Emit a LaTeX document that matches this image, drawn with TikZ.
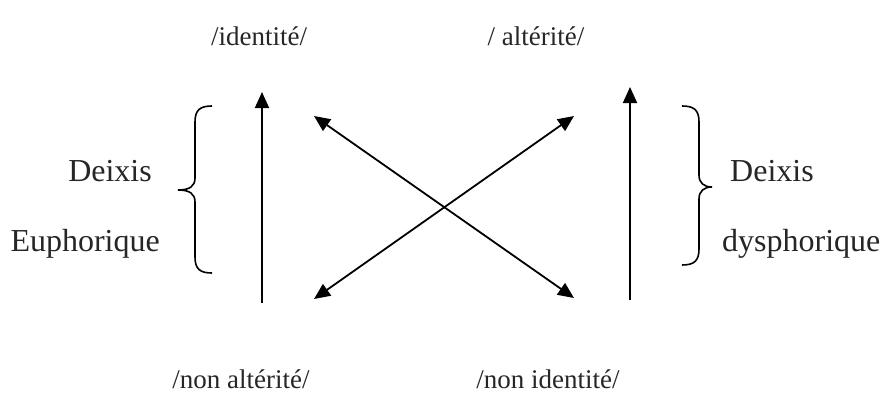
\documentclass[tikz,border=0pt]{standalone}
\usepackage{fontspec}
\setmainfont{Liberation Serif}
\usetikzlibrary{arrows.meta}
\begin{document}
\begin{tikzpicture}[x=1pt,y=-1pt,
  lbl/.style={inner sep=0pt,font=\fontsize{27}{31}\selectfont,text=black!85},
  side/.style={inner sep=0pt,font=\fontsize{32}{36}\selectfont,text=black!85},
  arr/.style={line width=1.8pt,-{Triangle[length=16pt,width=14pt]}},
  darr/.style={line width=1.8pt,{Triangle[length=16pt,width=14pt]}-{Triangle[length=16pt,width=14pt]}},
  brace/.style={line width=1.6pt}]
\useasboundingbox (0,0) rectangle (880,396);
\node[lbl,anchor=base] (id) at (259,46) {/identité/};
\node[lbl,anchor=base] (alt) at (536,46) {/ altérité/};
\node[lbl,anchor=base] (nalt) at (241,388) {/non altérité/};
\node[lbl,anchor=base] (nid) at (548,388) {/non identité/};
\node[side,anchor=base east] (dl) at (152,181) {Deixis};
\node[side,anchor=base east] (el) at (160,251) {Euphorique};
\node[side,anchor=base west] (dr) at (730,181) {Deixis};
\node[side,anchor=base west] (er) at (722,251) {dysphorique};
\coordinate (lb) at (262,303);
\coordinate (lt) at (262,92);
\coordinate (rb) at (630,300);
\coordinate (rt) at (630,87);
\coordinate (ul) at (314,116);
\coordinate (dl2) at (314,299);
\coordinate (ur) at (574,116);
\coordinate (dr2) at (574,298);
\draw[arr] (lb) -- (lt);
\draw[arr] (rb) -- (rt);
\draw[darr] (ul) -- (dr2);
\draw[darr] (dl2) -- (ur);
\draw[brace] (212,106) .. controls (200,106) and (195,110) .. (195,122)
  -- (195,178) .. controls (195,186) and (190,190) .. (178,190)
  .. controls (190,190) and (195,194) .. (195,202)
  -- (195,257) .. controls (195,269) and (200,273) .. (212,273);
\draw[brace] (682,106) .. controls (694,106) and (699,110) .. (699,122)
  -- (699,175) .. controls (699,183) and (704,187) .. (712,187)
  .. controls (704,187) and (699,191) .. (699,199)
  -- (699,249) .. controls (699,261) and (694,265) .. (682,265);
\end{tikzpicture}
\end{document}
